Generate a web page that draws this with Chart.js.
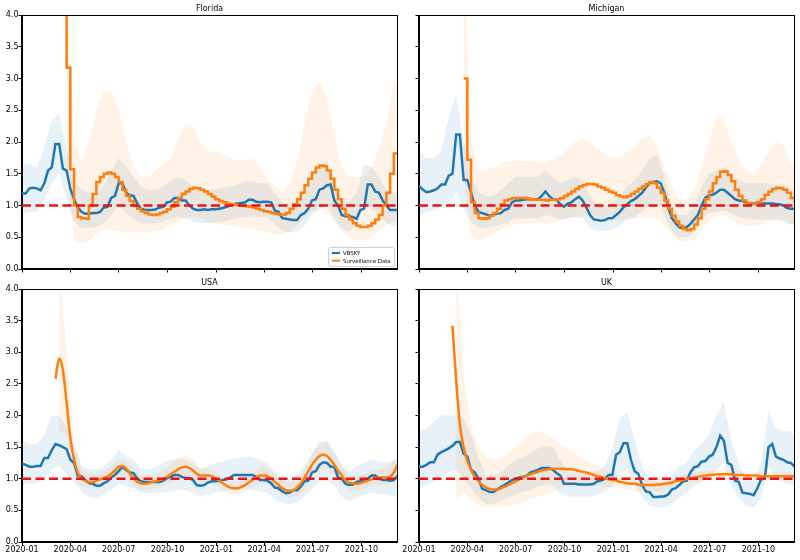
<!DOCTYPE html>
<html>
<head>
<meta charset="utf-8">
<script src="https://cdn.jsdelivr.net/npm/chart.js@4.4.1/dist/chart.umd.min.js"></script>
<style>
  body { margin: 0; background: #fff; }
  #wrap { position: relative; width: 800px; height: 560px; }
  #wrap canvas { position: absolute; left: 0; top: 0; }
</style>
</head>
<body>
<div id="wrap">
  <canvas id="florida" width="800" height="560"></canvas>
  <canvas id="michigan" width="800" height="560"></canvas>
  <canvas id="usa" width="800" height="560"></canvas>
  <canvas id="uk" width="800" height="560"></canvas>
</div>
<script>
// x positions: days since 2020-01-01 (weekly for lines, two-weekly for bands)
const weekDays = Array.from({ length: 102 }, (_, i) => i * 7);
const bandDays = Array.from({ length: 52 }, (_, i) => i * 14);
const tickDays = [0, 91, 182, 274, 366, 456, 547, 639];
const tickLabels = ['2020-01', '2020-04', '2020-07', '2020-10', '2021-01', '2021-04', '2021-07', '2021-10'];
const xEnd = 706;
const refLevel = 1.0;

const N = null;

// ---- Florida ----
const floridaVbsky = [1.19,1.19,1.27,1.28,1.27,1.24,1.35,1.55,1.6,1.97,
  1.97,1.58,1.55,1.26,1.1,0.97,0.9,0.87,0.87,0.88,
  0.88,0.9,0.97,0.98,1.12,1.15,1.35,1.35,1.2,1.16,
  1.15,1.03,0.95,0.93,0.93,0.93,0.94,0.97,0.98,1.05,
  1.06,1.12,1.12,1.08,1.08,1.0,0.95,0.93,0.93,0.94,
  0.93,0.94,0.94,0.95,0.96,0.98,1.0,1.02,1.03,1.04,
  1.05,1.09,1.09,1.06,1.05,1.06,1.06,1.05,0.92,0.9,
  0.8,0.79,0.78,0.77,0.77,0.85,0.88,0.95,1.08,1.1,
  1.25,1.27,1.32,1.33,1.08,1.0,0.85,0.83,0.83,0.82,
  0.79,0.93,0.95,1.33,1.33,1.22,1.2,1.08,1.0,0.93,
  0.93,0.93];
const floridaSurv = [N,N,N,N,N,N,N,N,N,N,N,
  6,3.17,1.57,1.0,0.82,0.8,0.79,1.0,1.18,1.37,
  1.45,1.5,1.52,1.5,1.45,1.37,1.25,1.15,1.07,1.0,
  0.95,0.91,0.88,0.86,0.85,0.86,0.88,0.9,0.94,0.98,
  1.05,1.12,1.18,1.22,1.26,1.28,1.27,1.25,1.22,1.18,
  1.14,1.1,1.07,1.05,1.03,1.02,1.01,1.0,1.0,0.99,
  0.98,0.97,0.95,0.93,0.91,0.9,0.88,0.87,0.86,0.86,
  0.88,0.95,1.02,1.1,1.2,1.32,1.42,1.52,1.6,1.63,
  1.62,1.55,1.42,1.25,1.1,0.95,0.85,0.78,0.72,0.68,
  0.66,0.66,0.68,0.72,0.78,0.85,1.0,1.2,1.5,1.82,1.82];
const floridaVbHi = [1.65,1.65,1.6,1.9,2.35,2.45,1.9,1.4,1.25,1.2,
  1.2,1.3,1.55,1.75,1.6,1.45,1.3,1.25,1.25,1.3,
  1.4,1.45,1.4,1.3,1.25,1.25,1.25,1.27,1.3,1.33,
  1.38,1.38,1.35,1.35,1.2,1.05,1.0,1.05,1.15,1.4,
  1.6,1.7,1.4,1.1,1.05,1.2,1.65,1.6,1.45,1.25,
  1.2,1.2];
const floridaVbLo = [0.85,0.9,0.9,1.1,1.35,1.5,1.1,0.75,0.65,0.65,
  0.67,0.72,0.85,1.0,0.88,0.8,0.72,0.72,0.73,0.75,
  0.8,0.82,0.8,0.75,0.72,0.72,0.73,0.75,0.77,0.8,
  0.82,0.83,0.82,0.82,0.7,0.6,0.57,0.6,0.68,0.85,
  0.95,1.0,0.8,0.62,0.6,0.68,1.0,0.95,0.85,0.72,
  0.68,0.68];
const floridaSvHi = [N,N,N,N,N,N,5,2.0,1.7,2.0,
  2.5,2.8,2.8,2.5,2.0,1.6,1.45,1.45,1.55,1.65,
  1.75,2.05,2.3,2.25,2.0,1.85,1.85,1.8,1.75,1.7,
  1.72,1.75,1.6,1.4,1.3,1.2,1.35,1.7,2.3,2.8,
  2.95,2.7,2.1,1.6,1.45,1.45,1.45,1.6,1.9,2.3,
  2.9,2.9];
const floridaSvLo = [N,N,N,N,N,N,1.6,0.45,0.4,0.45,
  0.55,0.62,0.62,0.6,0.58,0.58,0.58,0.58,0.6,0.62,
  0.68,0.75,0.8,0.82,0.8,0.75,0.72,0.7,0.68,0.67,
  0.65,0.63,0.6,0.58,0.55,0.55,0.6,0.7,0.8,0.9,
  0.95,0.9,0.75,0.6,0.5,0.45,0.45,0.5,0.6,0.7,
  0.75,0.75];

// ---- Michigan ----
const michiganVbsky = [1.31,1.25,1.21,1.22,1.24,1.27,1.33,1.33,1.47,1.5,
  2.12,2.12,1.4,1.4,1.2,1.0,0.9,0.88,0.86,0.84,
  0.86,0.87,0.88,0.93,0.95,1.05,1.08,1.08,1.09,1.1,
  1.1,1.1,1.1,1.15,1.22,1.15,1.1,1.09,1.02,0.98,
  1.03,1.05,1.1,1.14,1.08,0.97,0.85,0.78,0.77,0.76,
  0.77,0.8,0.8,0.85,0.9,0.97,1.02,1.07,1.1,1.15,
  1.2,1.28,1.35,1.37,1.38,1.35,1.2,0.98,0.8,0.72,
  0.66,0.64,0.66,0.71,0.78,0.85,1.0,1.12,1.16,1.17,
  1.2,1.25,1.25,1.2,1.15,1.1,1.08,1.07,1.05,1.03,
  1.03,1.03,1.03,1.03,1.03,1.03,1.02,1.02,1.0,0.96,
  0.95,0.95];
const michiganSurv = [N,N,N,N,N,N,N,N,N,N,N,N,
  3.0,1.72,1.05,0.88,0.8,0.79,0.8,0.84,0.88,0.95,
  1.02,1.08,1.1,1.12,1.12,1.12,1.12,1.11,1.1,1.09,
  1.09,1.09,1.08,1.09,1.09,1.1,1.12,1.15,1.18,1.22,
  1.26,1.3,1.32,1.34,1.34,1.33,1.3,1.28,1.25,1.22,
  1.2,1.16,1.14,1.13,1.15,1.18,1.22,1.26,1.3,1.34,
  1.37,1.35,1.28,1.2,1.08,0.95,0.84,0.75,0.68,0.63,
  0.61,0.63,0.7,0.8,0.95,1.1,1.22,1.35,1.45,1.53,
  1.54,1.48,1.38,1.25,1.15,1.08,1.04,1.02,1.02,1.05,
  1.1,1.17,1.22,1.26,1.28,1.27,1.25,1.2,1.12,1.05];
const michiganVbHi = [1.85,1.75,1.75,1.85,2.4,2.75,2.0,1.45,1.2,1.15,
  1.15,1.25,1.35,1.45,1.45,1.45,1.45,1.55,1.45,1.35,
  1.4,1.45,1.4,1.15,1.0,1.0,1.05,1.15,1.3,1.4,
  1.55,1.75,1.8,1.45,1.0,0.85,0.85,1.0,1.3,1.5,
  1.55,1.6,1.5,1.4,1.35,1.35,1.35,1.35,1.33,1.3,
  1.25,1.25];
const michiganVbLo = [0.85,0.9,0.92,1.0,1.05,1.2,0.95,0.75,0.65,0.65,
  0.67,0.7,0.75,0.8,0.8,0.8,0.8,0.85,0.82,0.78,
  0.8,0.82,0.8,0.65,0.6,0.6,0.62,0.68,0.78,0.82,
  0.9,1.0,1.05,0.85,0.6,0.5,0.5,0.58,0.78,0.88,
  0.9,0.92,0.88,0.82,0.8,0.78,0.78,0.78,0.78,0.75,
  0.7,0.7];
const michiganSvHi = [N,N,N,N,N,N,5,2.0,1.55,1.55,
  1.6,1.65,1.7,1.7,1.7,1.7,1.68,1.68,1.72,1.8,
  1.9,2.0,2.05,2.0,1.9,1.8,1.75,1.75,1.85,1.95,
  2.05,2.1,1.95,1.6,1.3,1.1,1.1,1.25,1.6,2.0,
  2.4,2.35,2.0,1.7,1.55,1.5,1.65,1.85,2.0,1.95,
  1.65,1.6];
const michiganSvLo = [N,N,N,N,N,N,1.5,0.5,0.45,0.48,
  0.55,0.62,0.68,0.7,0.72,0.72,0.72,0.72,0.74,0.76,
  0.8,0.82,0.85,0.85,0.83,0.8,0.78,0.77,0.78,0.8,
  0.82,0.83,0.8,0.68,0.55,0.45,0.42,0.48,0.62,0.75,
  0.85,0.85,0.78,0.7,0.68,0.67,0.7,0.75,0.78,0.77,
  0.7,0.68];

// ---- USA ----
const usaVbsky = [1.24,1.22,1.19,1.19,1.2,1.2,1.33,1.33,1.45,1.55,
  1.53,1.5,1.47,1.3,1.25,1.05,1.04,0.98,0.93,0.92,
  0.89,0.89,0.93,0.96,1.02,1.06,1.12,1.19,1.14,1.1,
  1.09,1.0,0.96,0.95,0.95,0.95,0.95,0.95,0.97,1.01,
  1.03,1.06,1.06,1.03,1.01,1.01,0.98,0.9,0.89,0.9,
  0.94,0.96,0.96,0.97,0.98,0.99,1.02,1.06,1.06,1.06,
  1.06,1.06,1.06,1.03,0.98,0.98,0.97,0.93,0.86,0.85,
  0.8,0.77,0.78,0.82,0.82,0.88,0.96,0.97,1.1,1.12,
  1.22,1.26,1.25,1.19,1.19,1.02,1.0,0.92,0.9,0.91,
  0.95,0.96,0.97,1.0,1.05,1.05,1.0,0.98,0.98,0.97,
  0.98,1.04];
const usaSurv = [N,N,N,N,N,N,N,N,N,
  2.58,
  2.9,2.72,2.2,1.65,1.3,1.1,1.0,0.97,0.95,0.95,
  0.97,0.99,1.01,1.04,1.08,1.13,1.19,1.2,1.16,1.08,
  1.01,0.95,0.93,0.92,0.93,0.95,0.96,0.98,1.0,1.03,
  1.07,1.11,1.15,1.18,1.19,1.17,1.13,1.08,1.05,1.05,
  1.05,1.04,1.01,0.97,0.93,0.89,0.86,0.85,0.85,0.87,
  0.9,0.94,0.98,1.02,1.05,1.05,1.04,1.0,0.95,0.9,
  0.85,0.82,0.81,0.82,0.86,0.93,1.02,1.12,1.22,1.3,
  1.36,1.38,1.36,1.3,1.22,1.13,1.05,0.98,0.94,0.93,
  0.92,0.93,0.95,0.97,0.99,1.01,1.02,1.02,1.02,1.03,1.1,1.22];
const usaVbHi = [1.6,1.55,1.55,1.7,2.0,2.0,1.8,1.55,1.2,1.15,
  1.15,1.2,1.3,1.45,1.35,1.3,1.15,1.15,1.18,1.25,
  1.3,1.32,1.3,1.25,1.15,1.2,1.25,1.27,1.3,1.33,
  1.35,1.35,1.3,1.25,1.1,1.0,1.0,1.05,1.2,1.4,
  1.55,1.6,1.45,1.2,1.1,1.2,1.25,1.3,1.28,1.25,
  1.3,1.3];
const usaVbLo = [0.9,0.92,0.93,1.0,1.15,1.2,1.08,0.95,0.8,0.72,
  0.7,0.75,0.82,0.92,0.88,0.85,0.78,0.77,0.78,0.78,
  0.8,0.82,0.82,0.78,0.72,0.75,0.78,0.8,0.82,0.83,
  0.83,0.83,0.8,0.78,0.68,0.62,0.6,0.63,0.72,0.85,
  0.95,0.97,0.9,0.72,0.65,0.7,0.75,0.78,0.76,0.75,
  0.72,0.72];
const usaSvHi = [N,N,N,N,N,4.3,3.0,1.6,1.15,1.08,
  1.08,1.12,1.2,1.3,1.3,1.15,1.05,1.05,1.08,1.13,
  1.2,1.32,1.38,1.3,1.18,1.16,1.12,1.02,0.95,0.95,
  1.0,1.1,1.18,1.18,1.08,0.98,0.93,0.97,1.13,1.4,
  1.6,1.58,1.4,1.18,1.06,1.05,1.08,1.12,1.15,1.17,
  1.3,1.45];
const usaSvLo = [N,N,N,N,N,1.75,1.7,1.05,0.88,0.85,
  0.87,0.9,0.95,1.05,1.03,0.9,0.82,0.82,0.85,0.88,
  0.93,1.0,1.02,0.98,0.93,0.93,0.9,0.83,0.76,0.75,
  0.8,0.87,0.92,0.92,0.83,0.75,0.7,0.72,0.83,1.05,
  1.15,1.15,1.05,0.9,0.83,0.82,0.85,0.88,0.9,0.9,
  0.95,1.0];

// ---- UK ----
const ukVbsky = [1.19,1.19,1.22,1.26,1.26,1.38,1.42,1.45,1.48,1.52,
  1.58,1.58,1.4,1.35,1.14,1.1,1.0,0.84,0.82,0.79,
  0.79,0.83,0.87,0.9,0.94,0.98,1.0,1.02,1.03,1.05,
  1.1,1.12,1.14,1.17,1.17,1.17,1.14,1.09,1.05,0.92,
  0.92,0.92,0.92,0.91,0.91,0.91,0.91,0.92,0.96,0.97,
  1.0,1.06,1.06,1.38,1.42,1.56,1.56,1.3,1.12,1.08,
  0.9,0.8,0.79,0.71,0.71,0.72,0.72,0.75,0.83,0.85,
  0.9,0.96,0.97,1.1,1.18,1.2,1.27,1.28,1.35,1.38,
  1.5,1.68,1.6,1.25,1.22,0.97,0.95,0.78,0.77,0.76,
  0.74,0.85,0.99,1.0,1.5,1.55,1.35,1.32,1.3,1.26,
  1.25,1.19];
const ukSurv = [N,N,N,N,N,N,N,N,N,
  3.42,
  2.55,1.85,1.5,1.28,1.14,1.03,0.96,0.9,0.86,0.84,
  0.83,0.83,0.85,0.87,0.9,0.93,0.96,0.99,1.02,1.05,
  1.07,1.09,1.11,1.13,1.14,1.15,1.16,1.16,1.16,1.16,
  1.15,1.15,1.14,1.12,1.11,1.1,1.08,1.06,1.04,1.03,
  1.01,0.99,0.98,0.97,0.95,0.94,0.93,0.92,0.92,0.91,
  0.9,0.9,0.9,0.9,0.91,0.91,0.92,0.93,0.94,0.96,
  0.97,0.98,1.0,1.01,1.02,1.03,1.04,1.05,1.06,1.06,
  1.07,1.07,1.07,1.07,1.07,1.06,1.06,1.06,1.05,1.05,
  1.05,1.05,1.04,1.04,1.04,1.04,1.04,1.04,1.04,1.04,1.04,1.04];
const ukVbHi = [1.75,1.8,1.9,2.0,2.0,2.0,1.95,1.7,1.35,1.05,
  1.05,1.1,1.2,1.3,1.35,1.4,1.48,1.52,1.5,1.3,
  1.1,1.1,1.08,1.08,1.12,1.2,1.5,1.95,2.05,1.6,
  1.2,0.98,0.95,0.95,1.05,1.2,1.25,1.45,1.55,1.7,
  2.0,2.2,1.6,1.25,0.98,0.98,1.25,2.05,1.8,1.75,
  1.75,1.6];
const ukVbLo = [0.85,0.9,0.95,1.05,1.1,1.15,1.0,0.85,0.7,0.6,
  0.6,0.65,0.7,0.75,0.8,0.82,0.88,0.9,0.88,0.78,
  0.72,0.72,0.72,0.72,0.75,0.8,0.88,1.1,1.15,0.9,
  0.7,0.58,0.55,0.55,0.6,0.7,0.78,0.88,0.95,1.0,
  1.15,1.25,0.9,0.7,0.57,0.55,0.7,1.2,1.0,0.95,
  0.9,0.85];
const ukSvHi = [N,N,N,N,N,4.5,2.6,1.85,1.5,1.35,
  1.3,1.33,1.4,1.5,1.6,1.7,1.75,1.72,1.65,1.55,
  1.48,1.4,1.32,1.25,1.2,1.15,1.1,1.07,1.05,1.03,
  1.0,0.99,0.99,1.0,1.02,1.05,1.08,1.1,1.12,1.13,
  1.14,1.14,1.13,1.12,1.11,1.1,1.1,1.1,1.1,1.1,
  1.1,1.1];
const ukSvLo = [N,N,N,N,N,0.65,0.8,0.65,0.58,0.56,
  0.55,0.56,0.57,0.6,0.63,0.68,0.72,0.76,0.8,0.85,
  0.88,0.9,0.9,0.9,0.88,0.87,0.86,0.85,0.83,0.82,
  0.8,0.8,0.8,0.82,0.85,0.88,0.92,0.95,0.97,0.99,
  1.0,1.0,1.0,0.99,0.99,0.98,0.98,0.98,0.98,0.98,
  0.98,0.98];

const BLUE = '#1f77b4';
const ORANGE = '#ff7f0e';
const BLUE_FILL = 'rgba(31,119,180,0.1)';
const ORANGE_FILL = 'rgba(255,127,14,0.1)';
const FONT = 'DejaVu Sans';

const panels = [
  { id: 'florida', title: 'Florida', vb: floridaVbsky, sv: floridaSurv, vbHi: floridaVbHi, vbLo: floridaVbLo,
    svHi: floridaSvHi, svLo: floridaSvLo, stepped: true, showX: false, showY: true, legend: true,
    area: { left: 22, top: 15, right: 397, bottom: 269 } },
  { id: 'michigan', title: 'Michigan', vb: michiganVbsky, sv: michiganSurv, vbHi: michiganVbHi, vbLo: michiganVbLo,
    svHi: michiganSvHi, svLo: michiganSvLo, stepped: true, showX: false, showY: false,
    area: { left: 419, top: 15, right: 794, bottom: 269 } },
  { id: 'usa', title: 'USA', vb: usaVbsky, sv: usaSurv, vbHi: usaVbHi, vbLo: usaVbLo,
    svHi: usaSvHi, svLo: usaSvLo, stepped: false, showX: true, showY: true,
    area: { left: 22, top: 289, right: 397, bottom: 542 } },
  { id: 'uk', title: 'UK', vb: ukVbsky, sv: ukSurv, vbHi: ukVbHi, vbLo: ukVbLo,
    svHi: ukSvHi, svLo: ukSvLo, stepped: false, showX: true, showY: false,
    area: { left: 419, top: 289, right: 794, bottom: 542 } }
];

function pts(xs, ys) {
  return ys.map((y, i) => ({ x: xs[i], y: y }));
}

// box round the plot area (top and right spines too)
const framePlugin = {
  id: 'frame',
  afterDatasetsDraw(chart) {
    const { ctx, chartArea: a } = chart;
    ctx.save();
    ctx.strokeStyle = '#000';
    ctx.lineWidth = 1;
    ctx.strokeRect(Math.round(a.left) - 0.5, Math.round(a.top) + 0.5,
      Math.round(a.right - a.left) + 1, Math.round(a.bottom - a.top) - 1);
    ctx.restore();
  }
};

const titlePlugin = {
  id: 'panelTitle',
  afterDraw(chart, args, opts) {
    const { ctx, chartArea: a } = chart;
    ctx.save();
    ctx.font = '8px "' + FONT + '"';
    ctx.fillStyle = '#000';
    ctx.textAlign = 'center';
    ctx.textBaseline = 'middle';
    ctx.fillText(opts.text, (a.left + a.right) / 2, a.top - 6);
    ctx.restore();
  }
};

const insetLegend = {
  id: 'insetLegend',
  afterDraw(chart, args, opts) {
    if (!opts.show) return;
    const { ctx, chartArea: a } = chart;
    const w = 66, h = 19;
    const x = a.right - w - 3, y = a.bottom - h - 3;
    ctx.save();
    ctx.fillStyle = 'rgba(255,255,255,0.8)';
    ctx.strokeStyle = '#d0d0d0';
    ctx.lineWidth = 1;
    ctx.beginPath();
    ctx.roundRect(x + 0.5, y + 0.5, w, h, 2);
    ctx.fill();
    ctx.stroke();
    const entries = [['VBSKY', BLUE], ['Surveillance Data', ORANGE]];
    ctx.font = '5.4px "' + FONT + '"';
    ctx.textBaseline = 'middle';
    entries.forEach((e, i) => {
      const ly = y + 6 + i * 7.7;
      ctx.strokeStyle = e[1];
      ctx.lineWidth = 2;
      ctx.beginPath();
      ctx.moveTo(x + 4, ly);
      ctx.lineTo(x + 12, ly);
      ctx.stroke();
      ctx.fillStyle = '#000';
      ctx.fillText(e[0], x + 15, ly + 0.5);
    });
    ctx.restore();
  }
};

function makePanel(p) {
  const yW = p.showY ? 22 : 4;
  const xH = p.showX ? 16 : 4;
  const axisGrid = { display: true, drawOnChartArea: false, drawTicks: true, tickLength: 3.5, color: '#000', lineWidth: 1 };
  const axisBorder = { display: true, color: '#000', width: 1 };
  const tickFont = { family: FONT, size: 8 };

  const datasets = [
    { data: pts(bandDays, p.vbLo), borderWidth: 0, pointRadius: 0, fill: false, order: 4 },
    { data: pts(bandDays, p.vbHi), borderWidth: 0, pointRadius: 0, fill: '-1', backgroundColor: BLUE_FILL, order: 4 },
    { data: pts(bandDays, p.svLo), borderWidth: 0, pointRadius: 0, fill: false, order: 3 },
    { data: pts(bandDays, p.svHi), borderWidth: 0, pointRadius: 0, fill: '-1', backgroundColor: ORANGE_FILL, order: 3 },
    { label: 'VBSKY', data: pts(weekDays, p.vb), borderColor: BLUE, borderWidth: 2.5, pointRadius: 0, fill: false, order: 2 },
    { label: 'Surveillance Data', data: pts(weekDays, p.sv), borderColor: ORANGE, borderWidth: 2.5, pointRadius: 0, fill: false,
      stepped: p.stepped ? 'before' : false, cubicInterpolationMode: p.stepped ? 'default' : 'monotone', order: 1 },
    { data: [{ x: 0, y: refLevel }, { x: xEnd, y: refLevel }], borderColor: '#e8141a', borderWidth: 2.5,
      borderDash: [9, 4.5], pointRadius: 0, fill: false, order: 0 }
  ];

  new Chart(document.getElementById(p.id), {
    type: 'line',
    data: { datasets: datasets },
    options: {
      responsive: false,
      animation: false,
      events: [],
      layout: {
        padding: {
          left: p.area.left - yW,
          right: 800 - p.area.right,
          top: p.area.top,
          bottom: 560 - p.area.bottom - xH
        }
      },
      plugins: {
        legend: { display: false },
        tooltip: { enabled: false },
        panelTitle: { text: p.title },
        insetLegend: { show: !!p.legend }
      },
      scales: {
        x: {
          type: 'linear',
          min: 0,
          max: xEnd,
          afterBuildTicks: ax => { ax.ticks = tickDays.map(v => ({ value: v })); },
          afterFit: s => { s.height = xH; },
          grid: axisGrid,
          border: axisBorder,
          ticks: {
            display: p.showX,
            autoSkip: false,
            maxRotation: 0,
            padding: 0,
            color: '#000',
            font: tickFont,
            callback: v => tickLabels[tickDays.indexOf(v)]
          }
        },
        y: {
          min: 0,
          max: 4,
          afterFit: s => { s.width = yW; },
          grid: axisGrid,
          border: axisBorder,
          ticks: {
            display: p.showY,
            stepSize: 0.5,
            padding: 0,
            color: '#000',
            font: tickFont,
            callback: v => v.toFixed(1)
          }
        }
      }
    },
    plugins: [framePlugin, titlePlugin, insetLegend]
  });
}

panels.forEach(makePanel);
</script>
</body>
</html>
